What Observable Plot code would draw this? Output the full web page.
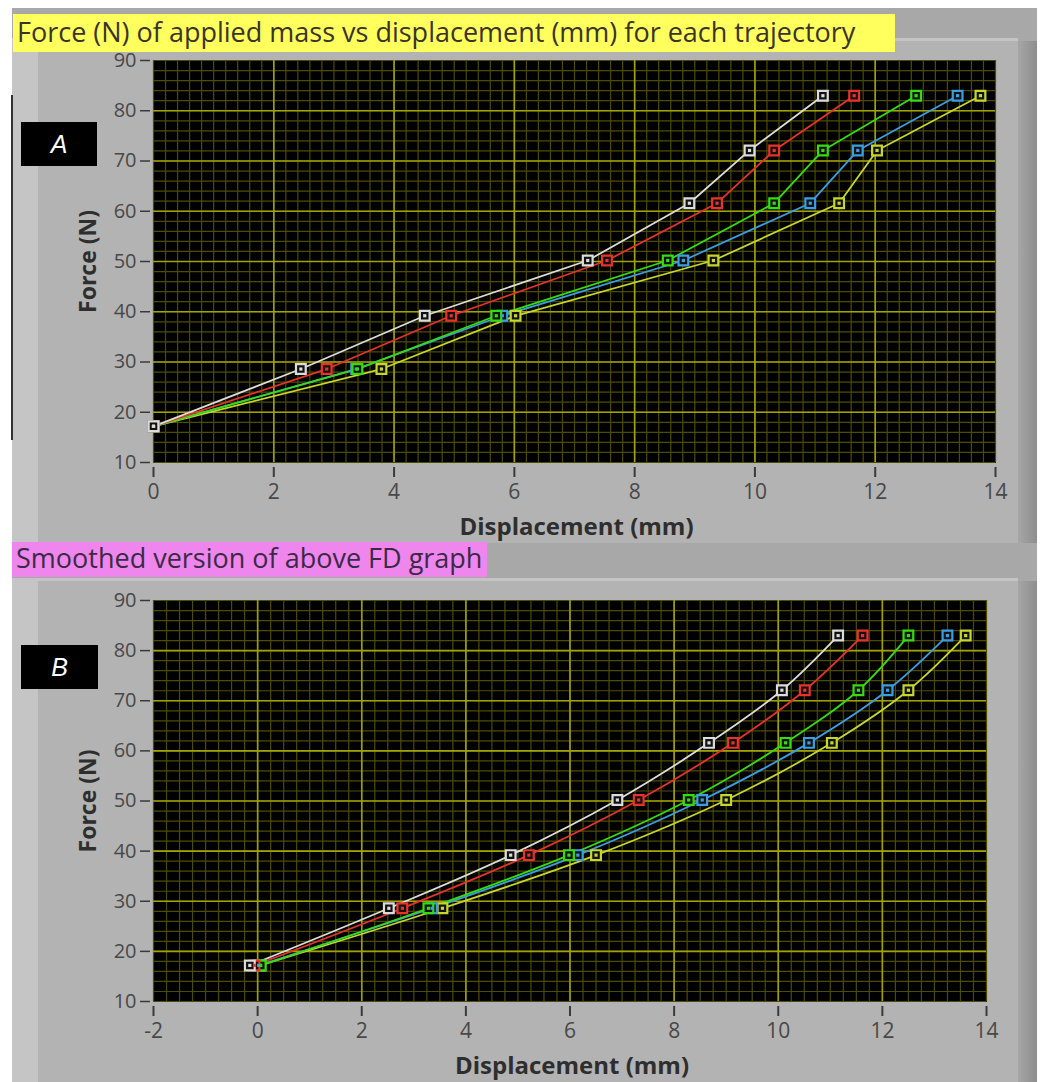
<!DOCTYPE html>
<html>
<head>
<meta charset="utf-8">
<script src="https://cdn.jsdelivr.net/npm/d3@7"></script>
<script src="https://cdn.jsdelivr.net/npm/@observablehq/plot@0.6"></script>
<style>
  html, body { margin: 0; padding: 0; background: #ffffff; }
  #page { position: relative; width: 1042px; height: 1082px; overflow: hidden; background: #ffffff; font-family: "Open Sans", "Noto Sans", sans-serif; }
  .abs { position: absolute; }
  .title { position: absolute; color: #3a3428; font-size: 27px; line-height: 1; white-space: nowrap; box-sizing: border-box; padding-left: 4px; display: flex; align-items: center; }
  .title span { display: block; line-height: 1.05; margin-top: -2px; }
  .tag { position: absolute; background: #000; color: #fff; font-family: "Liberation Sans", Arial, sans-serif; font-style: italic; font-size: 25px; display: flex; align-items: center; justify-content: center; }
  svg.chart { position: absolute; overflow: visible; }
</style>
</head>
<body>
<div id="page">
  <div class="abs" style="left:12px;top:8px;width:1025px;height:1074px;background:#a8a8a8;"></div>
  <!-- panel A -->
  <div class="abs" style="left:12px;top:38px;width:1006px;height:3px;background:#c4c4c4;"></div>
  <div class="abs" style="left:12px;top:41px;width:1006px;height:502px;background:#b3b3b3;"></div>
  <div class="abs" style="left:12px;top:41px;width:26px;height:502px;background:#c5c5c5;"></div>
  <div class="abs" style="left:1018px;top:41px;width:19px;height:502px;background:linear-gradient(to right,#a6a6a6,#8e8e8e);"></div>
  <!-- panel B -->
  <div class="abs" style="left:12px;top:578px;width:1006px;height:3px;background:#c4c4c4;"></div>
  <div class="abs" style="left:12px;top:581px;width:1006px;height:501px;background:#b3b3b3;"></div>
  <div class="abs" style="left:12px;top:581px;width:26px;height:501px;background:#c5c5c5;"></div>
  <div class="abs" style="left:1018px;top:581px;width:19px;height:501px;background:linear-gradient(to right,#a6a6a6,#8e8e8e);"></div>
  <div class="abs" style="left:11px;top:95px;width:2px;height:345px;background:#333;"></div>

  <div id="titleA" class="title" style="left:13px;top:14px;width:882px;height:38px;background:#ffff5e;"><span></span></div>
  <div id="titleB" class="title" style="left:12px;top:542px;width:475px;height:35px;background:#ee86ee;color:#3b2a44;"><span></span></div>
  <div id="tagA" class="tag" style="left:21px;top:122px;width:76px;height:44px;"></div>
  <div id="tagB" class="tag" style="left:21px;top:645px;width:77px;height:44px;"></div>
</div>
<script>
// ---------------- data ----------------
const titleA = "Force (N) of applied mass vs displacement (mm) for each trajectory";
const titleB = "Smoothed version of above FD graph";
const tagA = "A";
const tagB = "B";
const xLabel = "Displacement (mm)";
const yLabel = "Force (N)";

// force levels of the applied masses (N)
const force = [17.2, 28.6, 39.2, 50.2, 61.6, 72.1, 83.0];

// trajectory names and colours (white, red, green, blue, yellow)
const trajectories = ["T1", "T2", "T3", "T4", "T5"];
const trajColors = ["#dcdcdc", "#e8322b", "#33dd10", "#3a9fe2", "#c6d62c"];

// panel A: raw displacement (mm) per trajectory at each force level
const rawT1 = [0, 2.45, 4.51, 7.22, 8.91, 9.91, 11.13];
const rawT2 = [0, 2.88, 4.95, 7.54, 9.37, 10.32, 11.65];
const rawT3 = [0, 3.39, 5.70, 8.55, 10.32, 11.13, 12.68];
const rawT4 = [0, 3.37, 5.80, 8.81, 10.92, 11.71, 13.37];
const rawT5 = [0, 3.79, 6.02, 9.31, 11.40, 12.03, 13.75];

// panel B: smoothed displacement (mm)
const smT1 = [-0.15, 2.52, 4.86, 6.91, 8.67, 10.07, 11.15];
const smT2 = [-0.06, 2.78, 5.21, 7.32, 9.13, 10.51, 11.62];
const smT3 = [0.06, 3.28, 5.98, 8.28, 10.14, 11.54, 12.50];
const smT4 = [0.02, 3.35, 6.15, 8.54, 10.59, 12.10, 13.25];
const smT5 = [0.05, 3.55, 6.50, 9.00, 11.03, 12.50, 13.60];

// axes
const yTicks = [10, 20, 30, 40, 50, 60, 70, 80, 90];
const xTicksA = [0, 2, 4, 6, 8, 10, 12, 14];
const xTickLabelsA = ["0", "2", "4", "6", "8", "10", "12", "14"];
const xTicksB = [-2, 0, 2, 4, 6, 8, 10, 12, 14];
const xTickLabelsB = ["-2", "0", "2", "4", "6", "8", "10", "12", "14"];

// ---------------- build ----------------
document.querySelector("#titleA span").textContent = titleA;
document.querySelector("#titleB span").textContent = titleB;
document.getElementById("tagA").textContent = tagA;
document.getElementById("tagB").textContent = tagB;

function table(seriesArrays) {
  const rows = [];
  // draw order: yellow first, white last (white on top)
  for (let i = seriesArrays.length - 1; i >= 0; --i) {
    seriesArrays[i].forEach((x, j) => rows.push({traj: trajectories[i], x, y: force[j]}));
  }
  return rows;
}

const dataA = table([rawT1, rawT2, rawT3, rawT4, rawT5]);
const dataB = table([smT1, smT2, smT3, smT4, smT5]);

const FONT = "'Open Sans', 'Noto Sans', sans-serif";

function chart({data, xDomain, xTicks, xTickLabels, minorStep, width, height, mL, mR, mT, mB, curve}) {
  const minorX = d3.range(xDomain[0], xDomain[1] + 1e-9, minorStep);
  const minorY = d3.range(10, 90.001, 2);
  return Plot.plot({
    width, height,
    marginLeft: mL, marginRight: mR, marginTop: mT, marginBottom: mB,
    style: {background: "transparent", fontFamily: FONT, overflow: "visible"},
    x: {domain: xDomain, label: null},
    y: {domain: [10, 90], label: null},
    color: {domain: trajectories, range: trajColors},
    marks: [
      Plot.frame({fill: "#000", stroke: "#222"}),
      Plot.ruleX(minorX, {stroke: "#4c4c00", strokeWidth: 1.2}),
      Plot.ruleY(minorY, {stroke: "#4c4c00", strokeWidth: 1.2}),
      Plot.ruleX(xTicks.filter(d => d > xDomain[0] && d < xDomain[1]), {stroke: "#a3a300", strokeWidth: 1.6}),
      Plot.ruleY(yTicks.filter(d => d > 10 && d < 90), {stroke: "#a3a300", strokeWidth: 1.6}),
      Plot.line(data, {x: "x", y: "y", z: "traj", stroke: "traj", strokeWidth: 1.8, curve}),
      Plot.dot(data, {x: "x", y: "y", symbol: "square", r: 5.5, fill: "#111", stroke: "traj", strokeWidth: 2.2}),
      Plot.dot(data, {x: "x", y: "y", symbol: "square", r: 1.8, fill: "traj", stroke: "none"}),
      Plot.axisX({ticks: xTicks, tickFormat: (d) => xTickLabels[xTicks.indexOf(d)], tickSize: 10, dy: 5, tickPadding: 7,
        fontSize: 21, stroke: "#3a3a3a", strokeWidth: 2, color: "#484848", label: null}),
      Plot.axisY({ticks: yTicks, tickFormat: (d) => String(d), tickSize: 10, dx: -3, tickPadding: 4,
        fontSize: 20, stroke: "#3a3a3a", strokeWidth: 1.5, color: "#484848", label: null}),
      Plot.text([xLabel], {text: (d) => d, frameAnchor: "bottom", textAnchor: "middle", lineAnchor: "middle",
        dx: 2, dy: 65, fontSize: 24, fontWeight: "bold", fill: "#2e2e2e"}),
      Plot.text([yLabel], {text: (d) => d, frameAnchor: "left", textAnchor: "middle", lineAnchor: "middle",
        dx: -65, rotate: -90, fontSize: 23, fontWeight: "bold", fill: "#2e2e2e"})
    ]
  });
}

const svgA = chart({data: dataA, xDomain: [0, 14], xTicks: xTicksA, xTickLabels: xTickLabelsA, minorStep: 0.2,
  width: 1008, height: 491, mL: 141, mR: 25, mT: 8, mB: 81, curve: "linear"});
svgA.classList.add("chart");
svgA.style.left = "12px"; svgA.style.top = "52px";

const svgB = chart({data: dataB, xDomain: [-2, 14], xTicks: xTicksB, xTickLabels: xTickLabelsB, minorStep: 0.25,
  width: 1008, height: 499, mL: 141, mR: 34, mT: 17, mB: 81, curve: "catmull-rom"});
svgB.classList.add("chart");
svgB.style.left = "12px"; svgB.style.top = "583px";

const page = document.getElementById("page");
page.appendChild(svgA);
page.appendChild(svgB);
// keep title boxes and tags on top
["titleA", "titleB", "tagA", "tagB"].forEach(id => page.appendChild(document.getElementById(id)));
</script>
</body>
</html>
